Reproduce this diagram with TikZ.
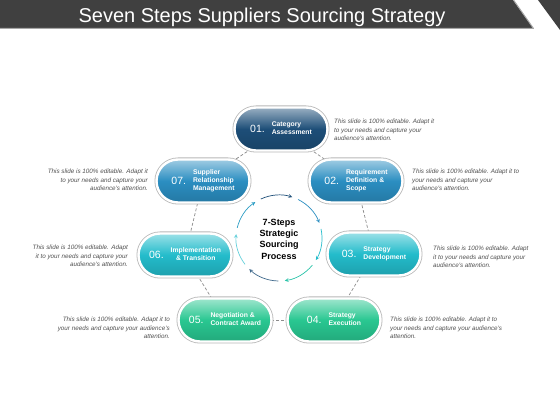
\documentclass[tikz,border=0pt]{standalone}
\usepackage{fontspec}
\setmainfont{Liberation Sans}
\usetikzlibrary{backgrounds}
\definecolor{bargray}{HTML}{404040}
\definecolor{navystep}{HTML}{1D4E78}
\definecolor{bluestep}{HTML}{2B8EC1}
\definecolor{tealstep}{HTML}{23BCCB}
\definecolor{greenstep}{HTML}{29C791}
\definecolor{notegray}{HTML}{505050}
\newcommand{\steptext}[3][l]{%
  {\fontsize{10.5}{12}\selectfont #2}\hspace{7pt}%
  \raisebox{1.5pt}{\bfseries\fontsize{6.8}{8}\selectfont
  \begin{tabular}[c]{@{}#1@{}}#3\end{tabular}}}
\begin{document}
\begin{tikzpicture}[x=1pt,y=1pt,line join=round,>=stealth,
    pill/.style={minimum width=93pt,minimum height=43pt,rounded corners=21.5pt,
      inner sep=0pt,text=white,draw=white,line width=2.4pt,
      top color=#1!45!white,bottom color=#1!85!black,middle color=#1,
      preaction={draw=black!28,line width=4pt}},
    note/.style={font=\itshape\fontsize{6.3}{8.4}\selectfont,text=notegray,inner sep=0pt},
    link/.style={draw=black!45,dash pattern=on 3pt off 2pt,line width=0.7pt}]
  \useasboundingbox (0,0) rectangle (560,420);
  % title bar
  \fill[bargray] (0,420)--(513,420)--(533,392)--(0,392)--cycle;
  \fill[bargray] (538,420)--(560,420)--(560,390)--cycle;
  \draw[black!35,line width=1pt] (0,391.5)--(533.5,391.5)--(513.5,420);
  \node[anchor=base,text=white,font=\fontsize{20}{24}\selectfont] (title) at (262,397)
    {Seven Steps Suppliers Sourcing Strategy};
  % steps
  \node[pill=navystep] (s1) at (281,291) {\steptext{01.}{Category\\Assessment}};
  \node[pill=bluestep] (s2) at (356,239) {\steptext{02.}{Requirement\\Definition \&\\Scope}};
  \node[pill=tealstep] (s3) at (374,166) {\steptext{03.}{Strategy\\Development}};
  \node[pill=greenstep] (s4) at (334,100) {\steptext{04.}{Strategy\\Execution}};
  \node[pill=greenstep] (s5) at (225,100) {\steptext{05.}{Negotiation \&\\Contract Award}};
  \node[pill=tealstep] (s6) at (185,165) {\steptext[c]{06.}{Implementation\\\& Transition}};
  \node[pill=bluestep] (s7) at (203,239) {\steptext{07.}{Supplier\\Relationship\\Management}};
  \begin{scope}[on background layer]
    \fill[white] (0,0) rectangle (560,392);
    \foreach \a/\b in {s1/s2,s2/s3,s3/s4,s4/s5,s5/s6,s6/s7,s7/s1}
      \draw[link] (\a.center)--(\b.center);
  \end{scope}
  % centre
  \node[font=\bfseries\fontsize{9}{11.3}\selectfont,align=center] (core) at (279,181)
    {7-Steps\\Strategic\\Sourcing\\Process};
  \coordinate (hub) at (279,182);
  \foreach \k/\c in {0/navystep,1/bluestep,2/tealstep,3/greenstep!60!tealstep,
      4/navystep!85,5/tealstep!70,6/bluestep!70!tealstep}{
    \pgfmathsetmacro\tip{72-51.43*\k}
    \draw[->,\c,line width=0.7pt] (hub) ++(\tip+43:43)
      arc[start angle=\tip+43,end angle=\tip,radius=43];
  }
  % notes
  \node[note,anchor=west,align=left] (n1) at (334,290)
    {This slide is 100\% editable. Adapt it\\to your needs and capture your\\audience's attention.};
  \node[note,anchor=west,align=left] (n2) at (412,240)
    {This slide is 100\% editable. Adapt it to\\your needs and capture your\\audience's attention.};
  \node[note,anchor=west,align=left] (n3) at (433,163)
    {This slide is 100\% editable. Adapt\\it to your needs and capture your\\audience's attention.};
  \node[note,anchor=west,align=left] (n4) at (390,92)
    {This slide is 100\% editable. Adapt it to\\your needs and capture your audience's\\attention.};
  \node[note,anchor=east,align=right] (n5) at (170,92)
    {This slide is 100\% editable. Adapt it to\\your needs and capture your audience's\\attention.};
  \node[note,anchor=east,align=right] (n6) at (128,164)
    {This slide is 100\% editable. Adapt\\it to your needs and capture your\\audience's attention.};
  \node[note,anchor=east,align=right] (n7) at (148,240)
    {This slide is 100\% editable. Adapt it\\to your needs and capture your\\audience's attention.};
\end{tikzpicture}
\end{document}
